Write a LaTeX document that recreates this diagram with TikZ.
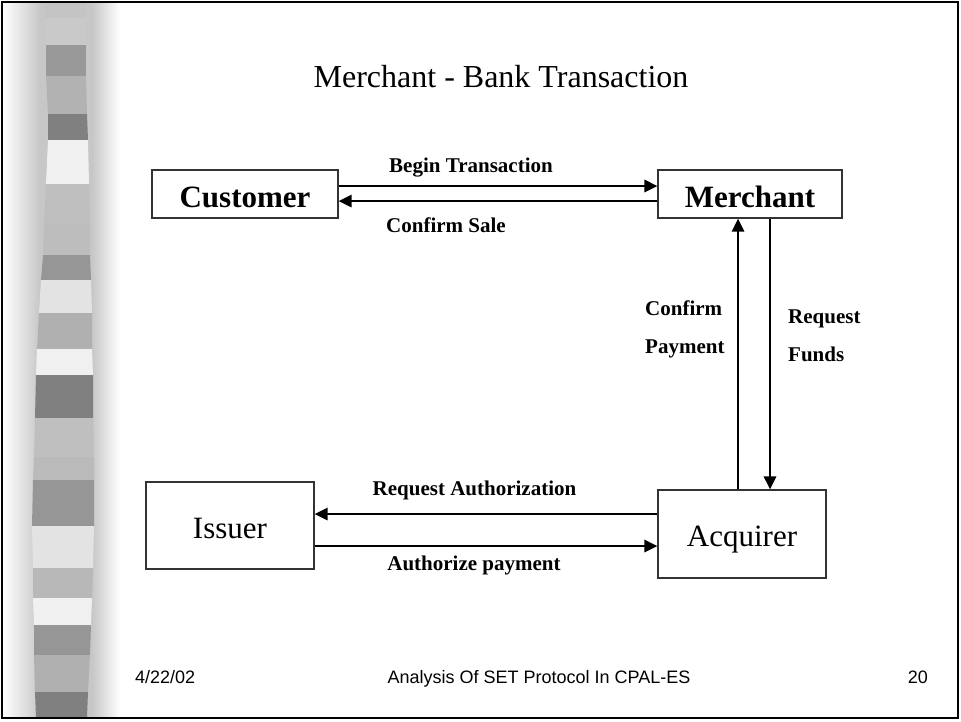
\documentclass[tikz,border=0pt]{standalone}
\usepackage{fontspec}
\setmainfont{Liberation Serif}
\newfontfamily\footfont{Liberation Sans}
\usetikzlibrary{arrows.meta,calc}

\begin{document}
\begin{tikzpicture}[x=1pt,y=-1pt,
  entity/.style={draw=black!80, line width=1.1pt, fill=white, inner sep=0pt},
  bigbold/.style={font=\fontsize{31}{36}\selectfont\bfseries},
  bigplain/.style={font=\fontsize{31}{36}\selectfont},
  flow/.style={line width=2.7pt, -{Triangle[length=13pt,width=12pt]}},
  msg/.style={font=\fontsize{21}{25}\selectfont\bfseries, inner sep=0pt},
  foot/.style={font=\footfont\fontsize{18}{21}\selectfont, inner sep=0pt, anchor=base}
]
\useasboundingbox (0,0) rectangle (961,721);
\fill[white] (0,0) rectangle (961,721);

% soft grey band behind the striped column
\shade[left color=white, right color=black!22] (3,3) rectangle (40,717);
\fill[black!22] (40,3) rectangle (92,717);
\shade[left color=black!22, right color=white] (92,3) rectangle (120,717);

% striped column: y_top/L_top/R_top/y_bot/L_bot/R_bot/grey
\foreach \ya/\la/\ra/\yb/\lb/\rb/\g in {
  3/45/86/18/45/86/0.77,
  18/45/86/45/46/86/0.79,
  45/46/86/76/46/86/0.60,
  76/46/86/114/48/87/0.70,
  114/48/87/140/48/88/0.50,
  140/48/88/184/46/89/0.94,
  184/46/89/223/44/90/0.75,
  223/44/90/255/43/90/0.74,
  255/43/90/280/41/91/0.59,
  280/41/91/313/39/92/0.89,
  313/39/92/349/37/92/0.69,
  349/37/92/375/36/93/0.94,
  375/36/93/418/35/93/0.50,
  418/35/93/457/34/94/0.75,
  457/34/94/480/33/94/0.73,
  480/33/94/526/32/94/0.59,
  526/32/94/568/33/93/0.89,
  568/33/93/598/33/92/0.72,
  598/33/92/625/34/91/0.94,
  625/34/91/655/34/90/0.59,
  655/34/90/692/35/88/0.69,
  692/35/88/717/36/87/0.50}{
  \definecolor{stripecol}{gray}{\g}
  \fill[stripecol] (\la,\ya) -- (\ra,\ya) -- (\rb,\yb) -- (\lb,\yb) -- cycle;
}

% slide frame
\draw[line width=2pt] (2,2) rectangle (957.5,717.5);

% title
\node[font=\fontsize{32}{38}\selectfont, inner sep=0pt, anchor=base] (title) at (501,87) {Merchant - Bank Transaction};

% parties
\node[entity, bigbold, minimum width=186pt, minimum height=48pt, text height=26pt, text depth=0pt] (cust) at (245,194) {Customer};
\node[entity, bigbold, minimum width=184pt, minimum height=48pt, text height=26pt, text depth=0pt] (merch) at (750,194) {Merchant};
\node[entity, bigplain, minimum width=168pt, minimum height=87pt, text height=25pt, text depth=0pt] (iss) at (230,525.5) {Issuer};
\node[entity, bigplain, minimum width=168pt, minimum height=88pt, text height=24pt, text depth=0pt] (acq) at (742,534) {Acquirer};

% customer <-> merchant
\coordinate (bt) at ($(cust.east)+(0,-8)$);
\coordinate (cs) at ($(merch.west)+(0,7)$);
\draw[flow] (bt) -- (bt -| merch.west);
\draw[flow] (cs) -- (cs -| cust.east);
\node[msg, anchor=base] (btl) at (471,172) {Begin Transaction};
\node[msg, anchor=base] (csl) at (446,232) {Confirm Sale};

% merchant <-> acquirer
\coordinate (cpx) at (738,0);
\coordinate (rfx) at (770,0);
\draw[flow] (cpx |- acq.north) -- (cpx |- merch.south);
\draw[flow] (rfx |- merch.south) -- (rfx |- acq.north);
\node[msg, anchor=base west] (cp1) at (645,315) {Confirm};
\node[msg, anchor=base west] (cp2) at (645,353) {Payment};
\node[msg, anchor=base west] (rf1) at (788,323) {Request};
\node[msg, anchor=base west] (rf2) at (788,361) {Funds};

% acquirer <-> issuer
\coordinate (ra) at ($(acq.west)+(0,-20)$);
\coordinate (ap) at ($(iss.east)+(0,20.5)$);
\draw[flow] (ra) -- (ra -| iss.east);
\draw[flow] (ap) -- (ap -| acq.west);
\node[msg, anchor=base] (ral) at (474.5,495) {Request Authorization};
\node[msg, anchor=base] (apl) at (474,570) {Authorize payment};

% footer
\node[foot, anchor=base west] (date) at (135,683) {4/22/02};
\node[foot] (ftitle) at (539,683) {Analysis Of SET Protocol In CPAL-ES};
\node[foot, anchor=base east] (page) at (928,683) {20};
\end{tikzpicture}
\end{document}
